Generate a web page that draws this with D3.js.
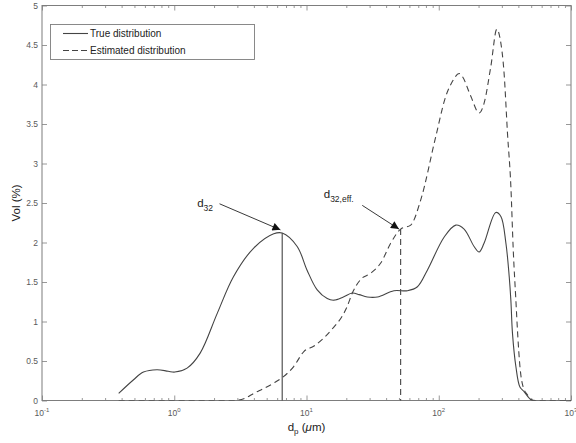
<!DOCTYPE html>
<html>
<head>
<meta charset="utf-8">
<script src="https://cdn.jsdelivr.net/npm/d3@7/dist/d3.min.js"></script>
<style>
html,body{margin:0;padding:0;background:#fff;}
svg{display:block;font-family:"Liberation Sans",Arial,Helvetica,sans-serif;}
</style>
</head>
<body>
<svg id="chart" width="576" height="443"></svg>
<script>
// ---- data (particle diameter in µm, volume %) ----
const trueX = [0.38,0.49,0.585,0.74,0.9,1.01,1.25,1.57,2.11,2.81,3.99,5.65,6.55,8.5,10.1,12.05,14.35,16.1,19,22.2,25,28.8,34.4,45.8,58,69,82,110,134.5,155.5,185,202,220,270,295,322,341,351,361,383,411,443,483,515,1000];
const trueY = [0.09,0.26,0.36,0.39,0.37,0.36,0.41,0.6,1.1,1.57,1.93,2.11,2.12,1.95,1.65,1.40,1.29,1.27,1.31,1.36,1.34,1.31,1.31,1.39,1.39,1.44,1.65,2.07,2.22,2.17,1.95,1.88,1.99,2.38,2.33,1.99,1.57,1.27,0.85,0.43,0.17,0.11,0.03,0,0];
const estX = [0.38,2.8,3.45,3.99,4.72,5.65,6.55,8.0,9.55,11.4,13.5,16.1,18.5,20.3,22.2,25.6,30.5,36.4,43.3,51.5,61.4,73.1,94.9,113,127,142.6,151,174.8,202,220,247.7,275,291,312,331,351,366,383,395,411,435,470,498,543,1000];
const estY = [0,0,0.03,0.09,0.15,0.22,0.29,0.43,0.62,0.69,0.79,0.93,1.06,1.19,1.36,1.53,1.61,1.74,1.99,2.17,2.22,2.54,3.34,3.85,4.04,4.14,4.10,3.85,3.64,3.76,4.23,4.70,4.58,4.14,3.38,2.71,1.9,1.27,0.85,0.43,0.17,0.07,0.01,0,0];
const seriesNames = ["True distribution","Estimated distribution"];
const yTicks = [0,0.5,1,1.5,2,2.5,3,3.5,4,4.5,5];
const xMajorExp = [-1,0,1,2,3];
const d32 = {x:6.55, y:2.12, label:"d", sub:"32", tx:1.49, ty:2.45, ax:2.2, ay:2.49, bx:6.35, by:2.16};
const d32eff = {x:51.5, y:2.17, label:"d", sub:"32,eff.", tx:13.5, ty:2.56, ax:26.4, ay:2.47, bx:50, by:2.17};

// ---- layout ----
const L = 42, R = 571, T = 5.5, B = 400.5;
const svg = d3.select("#chart");
const x = d3.scaleLog().domain([0.1, 1000]).range([L, R]);
const y = d3.scaleLinear().domain([0, 5]).range([B, T]);
const axisCol = "#7d7d7d", tickTxt = "#5a5a5a", lineCol = "#444";

svg.append("defs").append("marker")
  .attr("id","arr").attr("viewBox","0 0 10 10").attr("refX",10).attr("refY",5)
  .attr("markerWidth",11).attr("markerHeight",8).attr("markerUnits","userSpaceOnUse")
  .attr("orient","auto")
  .append("path").attr("d","M0,0 L10,5 L0,10 z").attr("fill","#111");

// plot background / box
svg.append("rect").attr("x",L).attr("y",T).attr("width",R-L).attr("height",B-T)
  .attr("fill","#fff").attr("stroke",axisCol).attr("stroke-width",1);

// y ticks via d3 axes (inward)
const yL = d3.axisLeft(y).tickValues(yTicks).tickSize(-5).tickPadding(4)
  .tickFormat(d => d3.format("")(d));
const gy = svg.append("g").attr("transform",`translate(${L},0)`).call(yL);
const yR = d3.axisRight(y).tickValues(yTicks).tickSize(-5).tickFormat("");
const gyr = svg.append("g").attr("transform",`translate(${R},0)`).call(yR);

// x major/minor ticks
const majors = xMajorExp.map(e => Math.pow(10,e));
const minors = [];
xMajorExp.slice(0,-1).forEach(e => { for (let k=2;k<=9;k++) minors.push(k*Math.pow(10,e)); });
const xB = d3.axisBottom(x).tickValues(majors).tickSize(-5).tickFormat("");
const gxb = svg.append("g").attr("transform",`translate(0,${B})`).call(xB);
const xBm = d3.axisBottom(x).tickValues(minors).tickSize(-2.5).tickFormat("");
const gxbm = svg.append("g").attr("transform",`translate(0,${B})`).call(xBm);
const xT = d3.axisTop(x).tickValues(majors).tickSize(-5).tickFormat("");
const gxt = svg.append("g").attr("transform",`translate(0,${T})`).call(xT);
const xTm = d3.axisTop(x).tickValues(minors).tickSize(-2.5).tickFormat("");
const gxtm = svg.append("g").attr("transform",`translate(0,${T})`).call(xTm);

[gy,gyr,gxb,gxbm,gxt,gxtm].forEach(g => {
  g.select(".domain").remove();
  g.selectAll(".tick line").attr("stroke",axisCol).attr("stroke-width",0.8);
  g.selectAll(".tick text").attr("fill",tickTxt).style("font-size","8.5px")
    .style("font-family",'"Liberation Sans",Arial,sans-serif');
});

// x tick labels with superscripts
const xl = svg.append("g");
xMajorExp.forEach(e => {
  const t = xl.append("text").attr("x",x(Math.pow(10,e))).attr("y",B+15)
    .attr("text-anchor","middle").attr("fill",tickTxt).style("font-size","8.5px");
  t.append("tspan").text("10");
  t.append("tspan").attr("dy",-4).style("font-size","6px").text(String(e));
});

// lines
const lineSmooth = d3.line().x(d => x(d[0])).y(d => y(d[1])).curve(d3.curveCatmullRom.alpha(0.5));
const lineEst = d3.line().x(d => x(d[0])).y(d => y(d[1])).curve(d3.curveMonotoneX);
const trueData = trueX.map((v,i)=>[v,trueY[i]]);
const estData = estX.map((v,i)=>[v,estY[i]]);

svg.append("clipPath").attr("id","pc").append("rect")
  .attr("x",L).attr("y",T).attr("width",R-L).attr("height",B-T);

svg.append("path").datum(trueData).attr("d",lineSmooth).attr("fill","none")
  .attr("stroke",lineCol).attr("stroke-width",1.1).attr("clip-path","url(#pc)");
svg.append("path").datum(estData).attr("d",lineEst).attr("fill","none")
  .attr("stroke",lineCol).attr("stroke-width",1.1).attr("stroke-dasharray","6,4")
  .attr("clip-path","url(#pc)");

// vertical markers
svg.append("line").attr("x1",x(d32.x)).attr("x2",x(d32.x)).attr("y1",y(d32.y)).attr("y2",y(0))
  .attr("stroke",lineCol).attr("stroke-width",1.1);
svg.append("line").attr("x1",x(d32eff.x)).attr("x2",x(d32eff.x)).attr("y1",y(d32eff.y)).attr("y2",y(0))
  .attr("stroke",lineCol).attr("stroke-width",1.1).attr("stroke-dasharray","6,4");

// annotations
[d32, d32eff].forEach(a => {
  svg.append("line").attr("x1",x(a.ax)).attr("y1",y(a.ay)).attr("x2",x(a.bx)).attr("y2",y(a.by))
    .attr("stroke","#222").attr("stroke-width",0.9).attr("marker-end","url(#arr)");
  const t = svg.append("text").attr("x",x(a.tx)).attr("y",y(a.ty)).attr("fill","#222")
    .style("font-size","11.5px");
  t.append("tspan").text(a.label);
  t.append("tspan").attr("dy",4).style("font-size","8.5px").text(a.sub);
});

// axis labels
svg.append("text").attr("transform",`translate(16,${(T+B)/2}) rotate(-90)`)
  .attr("text-anchor","middle").attr("dy","0.35em").attr("fill","#222")
  .style("font-size","11.5px").text("Vol (%)");
const xlab = svg.append("text").attr("x",(L+R)/2).attr("y",431).attr("text-anchor","middle")
  .attr("fill","#222").style("font-size","11.5px");
xlab.append("tspan").text("d");
xlab.append("tspan").attr("dy",3).style("font-size","8px").text("p");
xlab.append("tspan").attr("dy",-3).text(" (");
xlab.append("tspan").style("font-style","italic").text("\u03bc");
xlab.append("tspan").text("m)");

// legend
const lg = svg.append("g");
lg.append("rect").attr("x",50.5).attr("y",24.5).attr("width",204).attr("height",35)
  .attr("fill","#fff").attr("stroke",axisCol).attr("stroke-width",0.9);
seriesNames.forEach((n,i) => {
  const yy = 33.5 + i*17;
  lg.append("line").attr("x1",63).attr("x2",88).attr("y1",yy).attr("y2",yy)
    .attr("stroke",lineCol).attr("stroke-width",1.1)
    .attr("stroke-dasharray", i===1 ? "6,3" : null);
  lg.append("text").attr("x",90).attr("y",yy+3.5).attr("fill","#222")
    .style("font-size","10px").text(n);
});
</script>
</body>
</html>
